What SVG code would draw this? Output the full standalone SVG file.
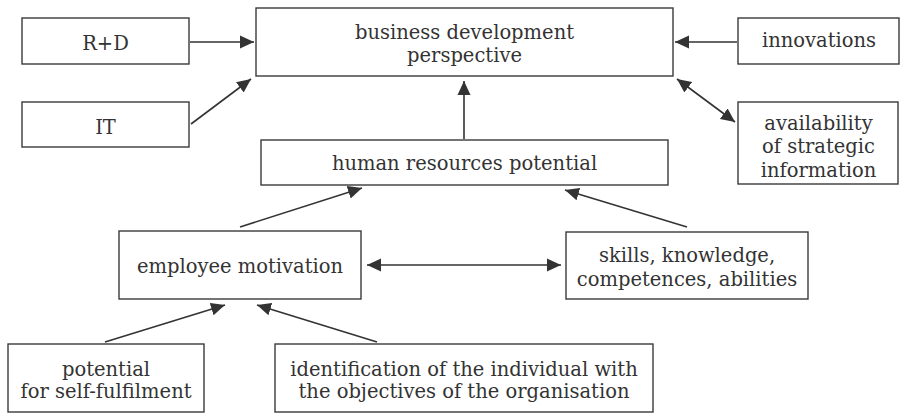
<svg xmlns="http://www.w3.org/2000/svg" width="902" height="413" viewBox="0 0 902 413">
<style>
.box{fill:#fff;stroke:#3a3a3a;stroke-width:1.4}
.t{font-family:"DejaVu Serif","Liberation Serif",serif;font-size:19.5px;fill:#333;text-anchor:middle}
.c{stroke:#333;stroke-width:1.6;fill:none}
</style>
<defs>
<marker id="ah" markerUnits="userSpaceOnUse" markerWidth="16" markerHeight="14" refX="14" refY="7" orient="auto-start-reverse" viewBox="0 0 16 14">
<path d="M0,0.5 L14,7 L0,13.5 z" fill="#333"/>
</marker>
</defs>
<rect width="902" height="413" fill="#fff"/>
<g id="connectors">
<line class="c" x1="190" y1="42" x2="254" y2="42" marker-end="url(#ah)"/>
<line class="c" x1="191" y1="124" x2="251" y2="79" marker-end="url(#ah)"/>
<line class="c" x1="737" y1="42" x2="675" y2="42" marker-end="url(#ah)"/>
<line class="c" x1="677" y1="79" x2="735" y2="122" marker-start="url(#ah)" marker-end="url(#ah)"/>
<line class="c" x1="464" y1="139" x2="464" y2="81" marker-end="url(#ah)"/>
<line class="c" x1="240" y1="227" x2="362" y2="188" marker-end="url(#ah)"/>
<line class="c" x1="687" y1="227" x2="565" y2="190" marker-end="url(#ah)"/>
<line class="c" x1="367" y1="265" x2="561" y2="265" marker-start="url(#ah)" marker-end="url(#ah)"/>
<line class="c" x1="105" y1="342" x2="225" y2="305" marker-end="url(#ah)"/>
<line class="c" x1="377" y1="342" x2="257" y2="305" marker-end="url(#ah)"/>
</g>
<g id="rd">
<rect class="box" x="22" y="18" width="167" height="46"/>
<text class="t" x="105.5" y="50">R+D</text>
</g>
<g id="it">
<rect class="box" x="22" y="102" width="167" height="45"/>
<text class="t" x="105.5" y="134">IT</text>
</g>
<g id="business">
<rect class="box" x="256" y="8" width="417" height="68"/>
<text class="t" x="464.5" y="39">business development</text>
<text class="t" x="464.5" y="62">perspective</text>
</g>
<g id="innovations">
<rect class="box" x="738" y="18" width="161" height="46"/>
<text class="t" x="819" y="47">innovations</text>
</g>
<g id="availability">
<rect class="box" x="738" y="102" width="160" height="82"/>
<text class="t" x="818.5" y="130">availability</text>
<text class="t" x="818.5" y="153">of strategic</text>
<text class="t" x="818.5" y="177">information</text>
</g>
<g id="hr">
<rect class="box" x="261" y="140" width="407" height="45"/>
<text class="t" x="464.5" y="170">human resources potential</text>
</g>
<g id="motivation">
<rect class="box" x="119" y="231" width="242" height="68"/>
<text class="t" x="240" y="273">employee motivation</text>
</g>
<g id="skills">
<rect class="box" x="566" y="232" width="242" height="67"/>
<text class="t" x="687" y="262">skills, knowledge,</text>
<text class="t" x="687" y="286">competences, abilities</text>
</g>
<g id="potential">
<rect class="box" x="8" y="344" width="196" height="68"/>
<text class="t" x="106" y="376">potential</text>
<text class="t" x="106" y="398">for self-fulfilment</text>
</g>
<g id="identification">
<rect class="box" x="275" y="344" width="378" height="68"/>
<text class="t" x="464" y="376">identification of the individual with</text>
<text class="t" x="464" y="398">the objectives of the organisation</text>
</g>
</svg>
